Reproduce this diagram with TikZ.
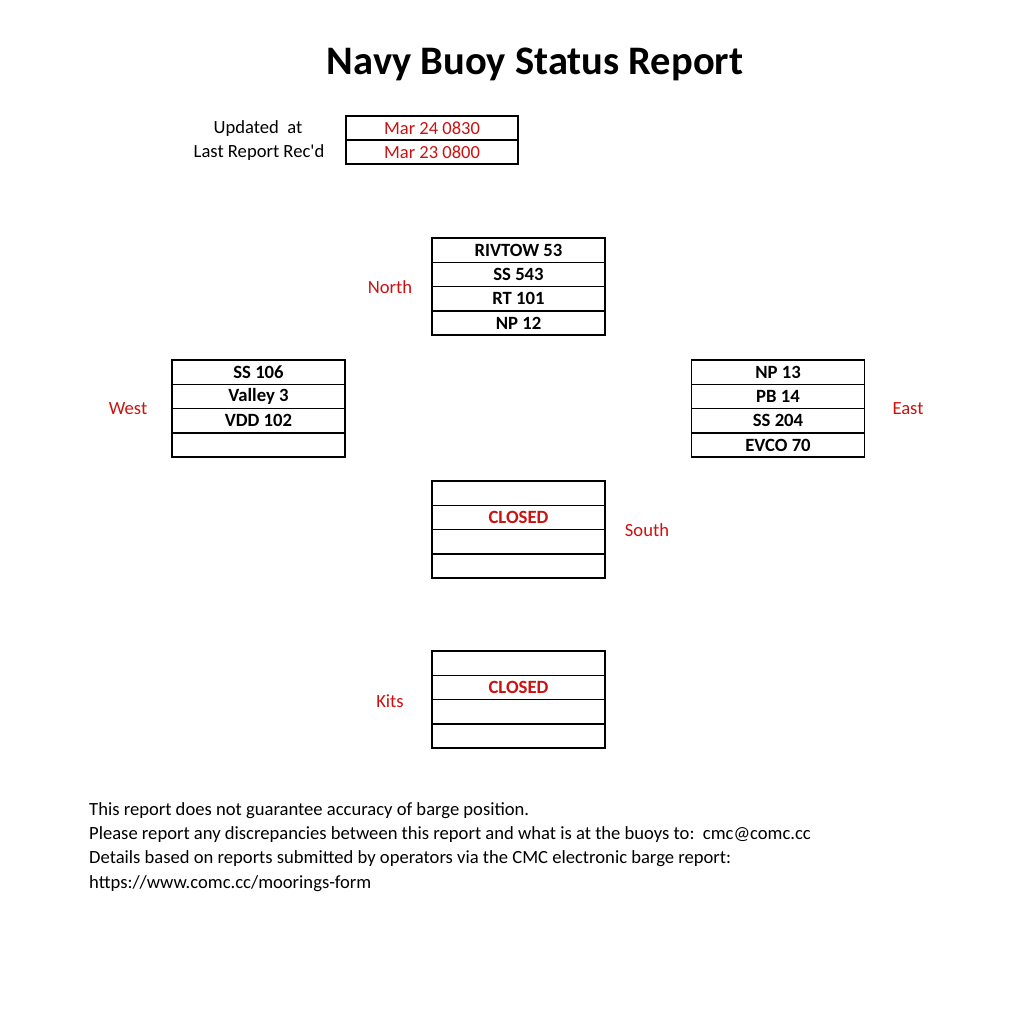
\documentclass[tikz,border=0pt]{standalone}
\usepackage{fontspec}
\setmainfont{Carlito}
\usetikzlibrary{positioning}
\definecolor{repRed}{HTML}{CC1111}

\begin{document}
\begin{tikzpicture}[x=1pt, y=-1pt,
      cell/.style={draw, line width=1.6pt, minimum width=173pt, minimum height=24.3pt,
        inner sep=0pt, font=\fontsize{18.7}{20}\selectfont\bfseries},
      datecell/.style={draw, line width=1.6pt, minimum width=172pt, minimum height=24pt,
        inner sep=0pt, text=repRed, font=\fontsize{18.5}{20}\selectfont},
      side/.style={text=repRed, font=\fontsize{18.6}{20}\selectfont},
      plain/.style={font=\fontsize{18.6}{20}\selectfont},
      foot/.style={anchor=west, inner sep=0pt, font=\fontsize{18.6}{20}\selectfont}]
    \useasboundingbox (0,0) rectangle (1011,1024);
    \node[font=\fontsize{40.5}{44}\selectfont\bfseries] (title) at (535,64) {Navy Buoy Status Report};
    % update times
    \node[datecell] (upd) at (432,128) {Mar 24 0830};
    \node[datecell] (last) at (432,152) {Mar 23 0800};
    \node[plain] (updlbl) at (258,129) {Updated\ \ at};
    \node[plain] (lastlbl) at (259,153) {Last Report Rec\textquotesingle d};
    % north
    \foreach \txt [count=\i] in {RIVTOW 53, SS 543, RT 101, NP 12}
      \node[cell] (north\i) at (518.5, 250.2+24.3*\i-24.3) {\txt};
    \node[side] (northlbl) at (390,287) {North};
    % west
    \foreach \txt [count=\i] in {SS 106, Valley 3, VDD 102, {}}
      \node[cell] (west\i) at (258.5, 372.2+24.3*\i-24.3) {\txt};
    \node[side] (westlbl) at (128,409) {West};
    % east
    \foreach \txt [count=\i] in {NP 13, PB 14, SS 204, EVCO 70}
      \node[cell] (east\i) at (778, 372.2+24.3*\i-24.3) {\txt};
    \node[side] (eastlbl) at (908,409) {East};
    % south
    \foreach \txt [count=\i] in {{}, CLOSED, {}, {}}
      \node[cell, text=repRed] (south\i) at (518.5, 493.2+24.3*\i-24.3) {\txt};
    \node[side] (southlbl) at (647,530) {South};
    % kits
    \foreach \txt [count=\i] in {{}, CLOSED, {}, {}}
      \node[cell, text=repRed] (kits\i) at (518.5, 663.2+24.3*\i-24.3) {\txt};
    \node[side] (kitslbl) at (390,701) {Kits};
    % notes
    \node[foot] (note1) at (89,811) {This report does not guarantee accuracy of barge position.};
    \node[foot] (note2) at (89,835) {Please report any discrepancies between this report and what is at the buoys to:\ \ cmc@comc.cc};
    \node[foot] (note3) at (89,859) {Details based on reports submitted by operators via the CMC electronic barge report:};
    \node[foot] (note4) at (89,884) {https://www.comc.cc/moorings-form};
\end{tikzpicture}
\end{document}
